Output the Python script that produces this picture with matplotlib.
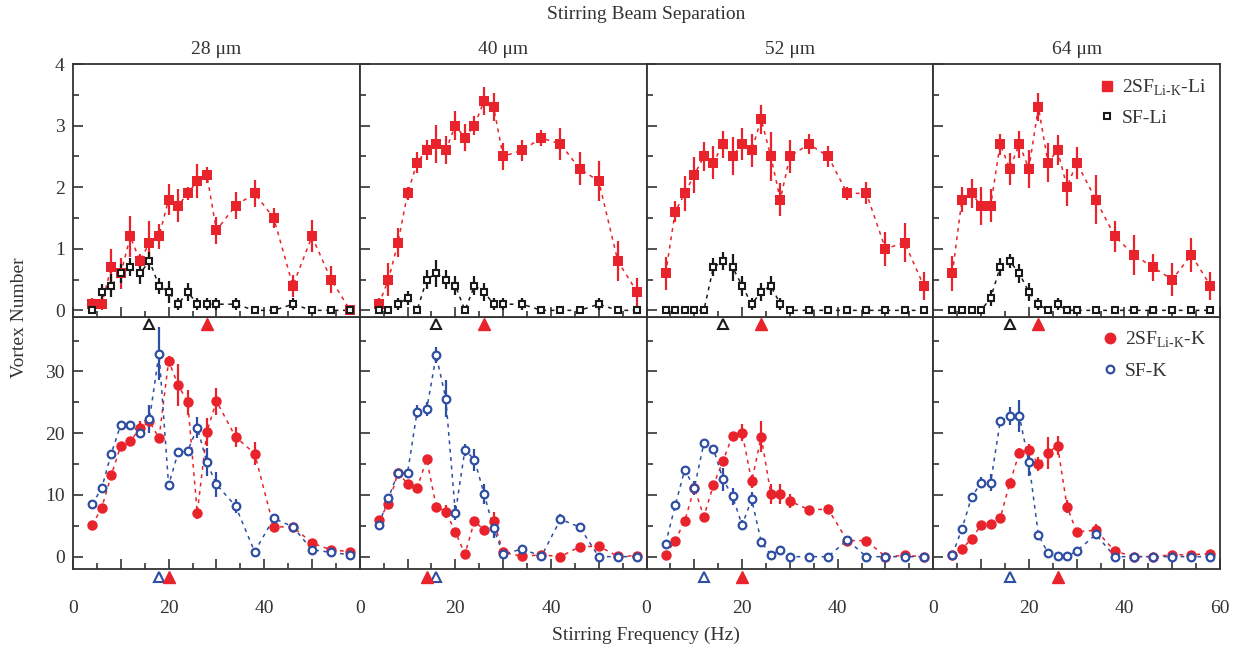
import numpy as np
import matplotlib
matplotlib.use("Agg")
import matplotlib.pyplot as plt
from matplotlib.lines import Line2D
from matplotlib.ticker import MultipleLocator, FixedLocator, FixedFormatter

plt.rcParams['font.family'] = ['Liberation Serif', 'DejaVu Serif']
plt.rcParams['mathtext.fontset'] = 'custom'
plt.rcParams['mathtext.rm'] = 'Liberation Serif'
plt.rcParams['text.color'] = '#333333'
plt.rcParams['axes.edgecolor'] = '#333333'
plt.rcParams['xtick.color'] = '#333333'
plt.rcParams['ytick.color'] = '#333333'

# stirring frequencies (Hz), same for every panel
freq = [4, 6, 8, 10, 12, 14, 16, 18, 20, 22, 24, 26, 28, 30, 34, 38, 42, 46, 50, 54, 58]
separations = ['28 μm', '40 μm', '52 μm', '64 μm']

# Li vortex number, 2SF (Li-K mixture)
li_2sf = [
    [0.1, 0.1, 0.7, 0.6, 1.2, 0.8, 1.1, 1.2, 1.8, 1.7, 1.9, 2.1, 2.2, 1.3, 1.7, 1.9, 1.5, 0.4, 1.2, 0.5, 0.0],
    [0.1, 0.5, 1.1, 1.9, 2.4, 2.6, 2.7, 2.6, 3.0, 2.8, 3.0, 3.4, 3.3, 2.5, 2.6, 2.8, 2.7, 2.3, 2.1, 0.8, 0.3],
    [0.6, 1.6, 1.9, 2.2, 2.5, 2.4, 2.7, 2.5, 2.7, 2.6, 3.1, 2.5, 1.8, 2.5, 2.7, 2.5, 1.9, 1.9, 1.0, 1.1, 0.4],
    [0.6, 1.8, 1.9, 1.7, 1.7, 2.7, 2.3, 2.7, 2.3, 3.3, 2.4, 2.6, 2.0, 2.4, 1.8, 1.2, 0.9, 0.7, 0.5, 0.9, 0.4],
]
li_2sf_err = [
    [0.1, 0.1, 0.3, 0.25, 0.33, 0.12, 0.35, 0.2, 0.25, 0.27, 0.1, 0.28, 0.13, 0.22, 0.22, 0.22, 0.16, 0.18, 0.26, 0.22, 0.0],
    [0.1, 0.27, 0.23, 0.1, 0.17, 0.16, 0.31, 0.23, 0.23, 0.22, 0.15, 0.23, 0.23, 0.22, 0.17, 0.13, 0.26, 0.27, 0.32, 0.33, 0.23],
    [0.27, 0.17, 0.28, 0.29, 0.23, 0.27, 0.22, 0.31, 0.26, 0.27, 0.23, 0.4, 0.26, 0.27, 0.16, 0.17, 0.1, 0.18, 0.28, 0.32, 0.23],
    [0.28, 0.21, 0.24, 0.31, 0.27, 0.17, 0.26, 0.22, 0.31, 0.23, 0.31, 0.24, 0.3, 0.26, 0.4, 0.25, 0.32, 0.22, 0.27, 0.28, 0.23],
]
# Li vortex number, single species SF
li_sf = [
    [0, 0.3, 0.4, 0.6, 0.7, 0.6, 0.8, 0.4, 0.3, 0.1, 0.3, 0.1, 0.1, 0.1, 0.1, 0, 0, 0.1, 0, 0, 0],
    [0, 0, 0.1, 0.2, 0, 0.5, 0.6, 0.5, 0.4, 0, 0.4, 0.3, 0.1, 0.1, 0.1, 0, 0, 0, 0.1, 0, 0],
    [0, 0, 0, 0, 0, 0.7, 0.8, 0.7, 0.4, 0.1, 0.3, 0.4, 0.1, 0, 0, 0, 0, 0, 0, 0, 0],
    [0, 0, 0, 0, 0.2, 0.7, 0.8, 0.6, 0.3, 0.1, 0, 0.1, 0, 0, 0, 0, 0, 0, 0, 0, 0],
]
li_sf_err = [
    [0, 0.13, 0.19, 0.15, 0.15, 0.17, 0.14, 0.13, 0.18, 0.1, 0.15, 0.1, 0.1, 0.1, 0.1, 0, 0, 0.1, 0, 0, 0],
    [0, 0, 0.1, 0.12, 0, 0.15, 0.22, 0.15, 0.15, 0, 0.15, 0.15, 0.1, 0.1, 0.1, 0, 0, 0, 0.1, 0, 0],
    [0, 0, 0, 0, 0, 0.15, 0.14, 0.22, 0.16, 0.1, 0.15, 0.15, 0.1, 0, 0, 0, 0, 0, 0, 0, 0],
    [0, 0, 0, 0, 0.13, 0.15, 0.12, 0.16, 0.15, 0.1, 0, 0.1, 0, 0, 0, 0, 0, 0, 0, 0, 0],
]

# K vortex number, 2SF (Li-K mixture)
k_2sf = [
    [5.1, 7.9, 13.2, 18.0, 18.7, 20.8, 21.9, 19.2, 31.7, 27.8, 25.0, 7.1, 20.2, 25.2, 19.4, 16.7, 4.8, 4.85, 2.2, 1.1, 0.8],
    [6.0, 8.5, 13.6, 11.8, 11.1, 15.8, 8.1, 7.3, 4.0, 0.4, 5.8, 4.3, 5.8, 0.7, 0.05, 0.3, 0.0, 1.6, 1.7, 0.05, 0.15],
    [0.3, 2.6, 5.8, 11.1, 6.5, 11.6, 15.5, 19.6, 20.1, 12.2, 19.4, 10.2, 10.1, 9.0, 7.6, 7.7, 2.6, 2.6, 0.0, 0.2, 0.0],
    [0.3, 1.25, 2.9, 5.1, 5.3, 6.2, 11.9, 16.8, 17.3, 15.0, 16.8, 18.0, 8.1, 4.0, 4.3, 0.9, 0.0, 0.0, 0.3, 0.3, 0.5],
]
k_2sf_err = [
    [0.5, 0.6, 0.7, 0.6, 0.6, 1.1, 1.0, 0.5, 0.8, 3.4, 2.0, 1.0, 2.2, 2.2, 1.6, 1.9, 0.6, 0.5, 0.4, 0.3, 0.3],
    [0.5, 0.6, 0.6, 0.6, 0.5, 0.7, 0.6, 1.0, 0.5, 0.5, 0.6, 0.5, 1.5, 0.4, 0.3, 0.3, 0.3, 0.4, 0.5, 0.3, 0.3],
    [0.4, 0.5, 0.6, 0.6, 0.6, 0.6, 0.6, 0.6, 1.4, 1.0, 2.5, 1.6, 1.6, 1.1, 0.6, 0.6, 0.4, 0.4, 0.3, 0.3, 0.3],
    [0.3, 0.4, 0.4, 0.5, 0.5, 0.5, 0.6, 0.8, 1.0, 1.2, 2.6, 1.6, 1.0, 0.6, 1.0, 0.4, 0.3, 0.3, 0.3, 0.3, 0.3],
]
# K vortex number, single species SF
k_sf = [
    [8.45, 11.1, 16.7, 21.4, 21.4, 20.1, 22.3, 32.9, 11.6, 16.9, 17.1, 20.9, 15.3, 11.7, 8.2, 0.8, 6.2, 4.85, 1.1, 0.7, 0.3],
    [5.2, 9.5, 13.6, 13.6, 23.5, 23.9, 32.6, 25.6, 7.1, 17.3, 15.7, 10.2, 4.6, 0.4, 1.25, 0.05, 6.05, 4.8, 0, 0, 0],
    [2.1, 8.3, 14.1, 11.1, 18.4, 17.5, 12.5, 9.8, 5.1, 9.3, 2.4, 0.3, 1.1, 0, 0, 0, 2.7, 0, 0, 0, 0],
    [0.3, 4.5, 9.6, 12.0, 12.0, 21.9, 22.8, 22.8, 15.3, 3.5, 0.6, 0.05, 0.05, 0.9, 3.6, 0, 0, 0, 0, 0, 0],
]
k_sf_err = [
    [0.4, 0.4, 0.5, 0.5, 0.5, 0.6, 2.3, 4.3, 0.5, 0.5, 0.6, 1.7, 2.3, 2.0, 1.1, 0.4, 0.5, 0.4, 0.3, 0.3, 0.3],
    [0.4, 0.5, 0.5, 0.6, 1.0, 1.1, 1.3, 3.0, 1.2, 1.0, 1.8, 1.6, 1.5, 0.3, 0.4, 0.3, 0.8, 0.5, 0.3, 0.3, 0.3],
    [0.3, 0.5, 0.5, 1.1, 0.5, 0.5, 1.8, 1.4, 0.8, 1.1, 0.4, 0.3, 0.3, 0.2, 0.2, 0.2, 0.4, 0.2, 0.2, 0.2, 0.2],
    [0.3, 0.4, 0.4, 0.9, 1.4, 0.8, 1.5, 2.6, 2.3, 0.3, 0.3, 0.2, 0.2, 0.3, 0.8, 0.2, 0.2, 0.2, 0.2, 0.2, 0.2],
]

# peak frequency markers (triangles under each panel)
li_sf_peak = [16, 16, 16, 16]
li_2sf_peak = [28, 26, 24, 22]
k_sf_peak = [18, 16, 12, 16]
k_2sf_peak = [20, 14, 20, 26]

RED = '#e8232b'
BLUE = '#2d4ea3'
BLACK = '#1a1a1a'

fig, axes = plt.subplots(2, 4, figsize=(12.42, 6.52), dpi=100)
fig.subplots_adjust(left=0.0588, right=0.9823, top=0.9018, bottom=0.1273,
                    wspace=0, hspace=0)


def series(ax, y, e, color, marker, ms, face, mew=0):
    ax.errorbar(freq, y, yerr=e, fmt='none', ecolor=color, elinewidth=1.6, capsize=0, zorder=2)
    ax.plot(freq, y, ls=(0, (2.5, 3)), color=color, lw=1.1, zorder=2)
    ax.plot(freq, y, ls='none', marker=marker, ms=ms, mfc=face, mec=color, mew=mew, zorder=3)


for j in range(4):
    top = axes[0, j]
    bot = axes[1, j]
    top.set_zorder(3)

    series(top, li_2sf[j], li_2sf_err[j], RED, 's', 7.5, RED)
    series(top, li_sf[j], li_sf_err[j], BLACK, 's', 5, 'white', 1.5)
    series(bot, k_2sf[j], k_2sf_err[j], RED, 'o', 7.5, RED)
    series(bot, k_sf[j], k_sf_err[j], BLUE, 'o', 5.5, 'white', 1.6)

    # peak triangles below each axis
    top.plot([li_sf_peak[j]], [-0.215], ls='none', marker='^', ms=7, mfc='white', mec=BLACK, mew=1.5, clip_on=False, zorder=5)
    top.plot([li_2sf_peak[j]], [-0.215], ls='none', marker='^', ms=8, mfc=RED, mec=RED, clip_on=False, zorder=5)
    bot.plot([k_sf_peak[j]], [-3.25], ls='none', marker='^', ms=7, mfc='white', mec=BLUE, mew=1.5, clip_on=False, zorder=5)
    bot.plot([k_2sf_peak[j]], [-3.25], ls='none', marker='^', ms=8, mfc=RED, mec=RED, clip_on=False, zorder=5)

    top.set_ylim(-0.1, 4.0)
    bot.set_ylim(-2.0, 38.9)
    top.set_xlim(0, 60)
    bot.set_xlim(0, 60)

    top.yaxis.set_major_locator(MultipleLocator(1))
    top.yaxis.set_minor_locator(MultipleLocator(0.5))
    bot.yaxis.set_major_locator(MultipleLocator(10))
    bot.yaxis.set_minor_locator(MultipleLocator(5))
    labels = ['0', '', '20', '', '40', '', '60' if j == 3 else '']
    for ax in (top, bot):
        ax.xaxis.set_major_locator(FixedLocator([0, 10, 20, 30, 40, 50, 60]))
        ax.xaxis.set_major_formatter(FixedFormatter(labels))
        ax.xaxis.set_minor_locator(MultipleLocator(5))

    for ax in (top, bot):
        for sp in ax.spines.values():
            sp.set_linewidth(1.3)
        ax.tick_params(which='both', direction='in', top=False, right=False, width=1.2)
        ax.tick_params(which='major', length=7)
        ax.tick_params(which='minor', length=4)
        ax.tick_params(axis='y', labelsize=14, pad=6)
        ax.tick_params(axis='x', labelsize=14, pad=22)
        if j > 0:
            ax.tick_params(axis='y', labelleft=False)
    top.tick_params(axis='x', labelbottom=False)

    top.set_title(separations[j], fontsize=14, pad=7)

# legends
h_li = [Line2D([], [], ls='none', marker='s', ms=7, mfc=RED, mec=RED),
        Line2D([], [], ls='none', marker='s', ms=5, mfc='white', mec=BLACK, mew=1.5)]
axes[0, 3].legend(h_li, [r'2SF$_{\mathrm{Li\text{-}K}}$-Li', 'SF-Li'], loc='upper right',
                  frameon=False, fontsize=14, handlelength=0.8, handletextpad=0.4,
                  labelspacing=0.6, borderaxespad=0.3)
h_k = [Line2D([], [], ls='none', marker='o', ms=7.5, mfc=RED, mec=RED),
       Line2D([], [], ls='none', marker='o', ms=5.5, mfc='white', mec=BLUE, mew=1.6)]
axes[1, 3].legend(h_k, [r'2SF$_{\mathrm{Li\text{-}K}}$-K', 'SF-K'], loc='upper right',
                  frameon=False, fontsize=14, handlelength=0.8, handletextpad=0.4,
                  labelspacing=0.6, borderaxespad=0.3)

fig.text(0.52, 0.978, 'Stirring Beam Separation', ha='center', va='center', fontsize=14)
fig.text(0.52, 0.025, 'Stirring Frequency (Hz)', ha='center', va='center', fontsize=14)
fig.text(0.016, 0.512, 'Vortex Number', ha='center', va='center', rotation=90, fontsize=14)

fig.savefig('out.png', dpi=100)
